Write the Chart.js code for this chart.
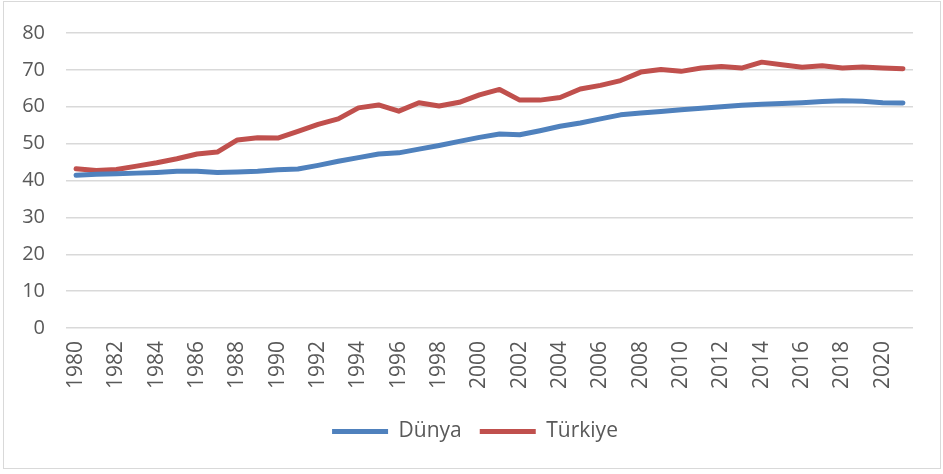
<!DOCTYPE html>
<html>
<head>
<meta charset="utf-8">
<script src="https://cdn.jsdelivr.net/npm/chart.js@4"></script>
<style>
  html, body { margin: 0; padding: 0; background: #fff; }
  #frame {
    position: absolute; left: 3px; top: 1px; width: 936px; height: 466px;
    border: 1.5px solid #d9d9d9;
  }
  #wrap { position: absolute; left: 0; top: 0; width: 943px; height: 474px; }
</style>
</head>
<body>
<div id="frame"></div>
<div id="wrap"><canvas id="lineChart" width="943" height="474"></canvas></div>
<script>
// Years on the x axis
const years = [
  1980, 1981, 1982, 1983, 1984, 1985, 1986, 1987, 1988, 1989,
  1990, 1991, 1992, 1993, 1994, 1995, 1996, 1997, 1998, 1999,
  2000, 2001, 2002, 2003, 2004, 2005, 2006, 2007, 2008, 2009,
  2010, 2011, 2012, 2013, 2014, 2015, 2016, 2017, 2018, 2019,
  2020, 2021
];

// World series
const dunya = [
  41.4, 41.7, 41.8, 42.0, 42.2, 42.5, 42.5, 42.2, 42.3, 42.5,
  42.9, 43.1, 44.1, 45.2, 46.2, 47.2, 47.5, 48.5, 49.5, 50.6,
  51.7, 52.6, 52.4, 53.5, 54.7, 55.6, 56.7, 57.8, 58.3, 58.7,
  59.2, 59.6, 60.0, 60.4, 60.7, 60.9, 61.1, 61.4, 61.6, 61.5,
  61.1, 61.0
];

// Turkey series
const turkiye = [
  43.2, 42.7, 43.0, 43.9, 44.8, 45.9, 47.2, 47.7, 51.0, 51.6,
  51.5, 53.3, 55.2, 56.7, 59.7, 60.5, 58.8, 61.1, 60.2, 61.2,
  63.2, 64.7, 61.8, 61.8, 62.5, 64.8, 65.8, 67.1, 69.4, 70.1,
  69.6, 70.5, 70.9, 70.5, 72.1, 71.4, 70.7, 71.1, 70.5, 70.8,
  70.5, 70.3
];

// Y axis tick step
const yMax = 80;
const yStep = 10;

const textColor = '#595959';
const fontFamily = "'Open Sans', sans-serif";

const ctx = document.getElementById('lineChart').getContext('2d');

new Chart(ctx, {
    type: 'line',
    data: {
        labels: years,
        datasets: [
            {
                label: 'Dünya',
                data: dunya,
                borderColor: '#4f81bd',
                backgroundColor: '#4f81bd',
                borderWidth: 5,
                borderCapStyle: 'round',
                borderJoinStyle: 'round',
                pointRadius: 0,
                tension: 0,
                fill: false
            },
            {
                label: 'Türkiye',
                data: turkiye,
                borderColor: '#c0504d',
                backgroundColor: '#c0504d',
                borderWidth: 5,
                borderCapStyle: 'round',
                borderJoinStyle: 'round',
                pointRadius: 0,
                tension: 0,
                fill: false
            }
        ]
    },
    options: {
        responsive: false,
        animation: false,
        layout: {
            padding: { left: 7, right: 0, top: 24, bottom: 22 }
        },
        plugins: {
            tooltip: { enabled: false },
            legend: {
                display: true,
                position: 'bottom',
                labels: {
                    color: textColor,
                    font: { family: fontFamily, size: 21 },
                    usePointStyle: true,
                    pointStyle: 'line',
                    pointStyleWidth: 56,
                    padding: 18
                }
            }
        },
        scales: {
            x: {
                type: 'category',
                offset: true,
                grid: { display: false, drawTicks: false },
                border: { display: false },
                ticks: {
                    color: textColor,
                    font: { family: fontFamily, size: 21 },
                    minRotation: 90,
                    maxRotation: 90,
                    autoSkip: false,
                    padding: 13,
                    callback: function (value, index) {
                        return index % 2 === 0 ? years[index] : '';
                    }
                },
                afterFit: function (scale) { scale.height = 75; }
            },
            y: {
                min: 0,
                max: yMax,
                grid: { color: '#d9d9d9', lineWidth: 1.5, drawTicks: false },
                border: { display: false },
                ticks: {
                    stepSize: yStep,
                    color: textColor,
                    font: { family: fontFamily, size: 20 },
                    padding: 21
                },
                afterFit: function (scale) { scale.width = 59; }
            },
            // empty right-hand spacer so the plot ends where the reference does
            spacer: {
                type: 'linear',
                position: 'right',
                grid: { display: false, drawTicks: false },
                border: { display: false },
                ticks: { display: false },
                afterFit: function (scale) { scale.width = 30; }
            }
        }
    }
});
</script>
</body>
</html>
